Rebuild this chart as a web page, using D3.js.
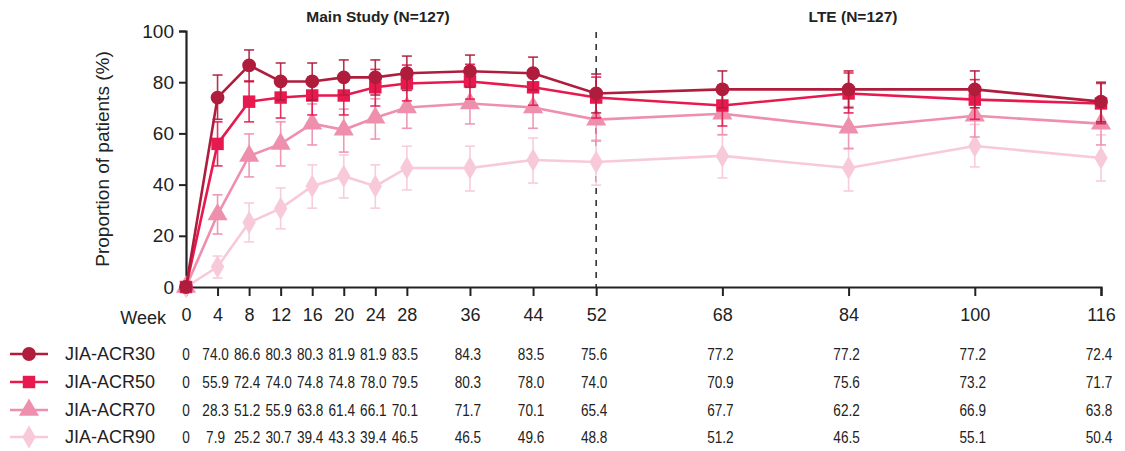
<!DOCTYPE html>
<html>
<head>
<meta charset="utf-8">
<script src="https://cdn.jsdelivr.net/npm/d3@7"></script>
<style>
  html, body { margin: 0; padding: 0; background: #fff; }
  svg { display: block; font-family: "Liberation Sans", Arial, Helvetica, sans-serif; }
</style>
</head>
<body>
<svg id="chart" width="1125" height="451"></svg>
<script>
// Study weeks on the x axis
const weeks = [0, 4, 8, 12, 16, 20, 24, 28, 36, 44, 52, 68, 84, 100, 116];

// Response series (% of patients) with 95% CI bounds
const seriesNames = ["JIA-ACR30", "JIA-ACR50", "JIA-ACR70", "JIA-ACR90"];

const acr30 = [0, 74.0, 86.6, 80.3, 80.3, 81.9, 81.9, 83.5, 84.3, 83.5, 75.6, 77.2, 77.2, 77.2, 72.4];
const acr30Lo = [0, 65.5, 80.2, 73.0, 73.0, 75.0, 75.0, 76.8, 78.0, 77.0, 68.0, 70.0, 70.0, 70.0, 64.5];
const acr30Hi = [0, 82.8, 92.6, 87.5, 87.5, 88.7, 88.7, 90.2, 90.6, 89.8, 83.2, 84.4, 84.4, 84.4, 80.0];

const acr50 = [0, 55.9, 72.4, 74.0, 74.8, 74.8, 78.0, 79.5, 80.3, 78.0, 74.0, 70.9, 75.6, 73.2, 71.7];
const acr50Lo = [0, 47.3, 64.5, 66.0, 67.2, 67.2, 70.7, 72.7, 73.4, 71.0, 66.0, 62.9, 68.0, 65.5, 63.8];
const acr50Hi = [0, 64.5, 80.5, 81.0, 82.0, 82.0, 85.0, 86.7, 87.0, 85.0, 82.0, 79.0, 83.6, 81.0, 79.5];

const acr70 = [0, 28.3, 51.2, 55.9, 63.8, 61.4, 66.1, 70.1, 71.7, 70.1, 65.4, 67.7, 62.2, 66.9, 63.8];
const acr70Lo = [0, 20.7, 43.0, 47.3, 55.5, 52.7, 57.8, 62.0, 63.7, 62.0, 57.0, 59.5, 54.0, 58.6, 55.5];
const acr70Hi = [0, 36.0, 59.8, 64.5, 71.5, 69.5, 73.5, 77.8, 79.0, 77.5, 73.5, 76.0, 70.5, 75.0, 71.5];

const acr90 = [0, 7.9, 25.2, 30.7, 39.4, 43.3, 39.4, 46.5, 46.5, 49.6, 48.8, 51.2, 46.5, 55.1, 50.4];
const acr90Lo = [0, 3.5, 17.6, 22.7, 30.8, 34.8, 30.8, 37.9, 37.5, 40.6, 39.8, 42.6, 37.5, 46.9, 41.4];
const acr90Hi = [0, 12.1, 32.8, 38.7, 47.7, 51.6, 47.7, 55.0, 55.0, 58.2, 57.5, 59.4, 54.3, 63.5, 59.4];

const yTicks = [0, 20, 40, 60, 80, 100];
const phaseTitles = ["Main Study (N=127)", "LTE (N=127)"];
const phaseBoundary = 52;

const colors = ["#b01c3c", "#e8194e", "#ef8fae", "#f8c9d8"];
const symbols = [d3.symbolCircle, d3.symbolSquare, d3.symbolTriangle, d3.symbolDiamond];
const symbolSizes = [150, 155, 175, 155];

const series = [
  { name: seriesNames[0], v: acr30, lo: acr30Lo, hi: acr30Hi },
  { name: seriesNames[1], v: acr50, lo: acr50Lo, hi: acr50Hi },
  { name: seriesNames[2], v: acr70, lo: acr70Lo, hi: acr70Hi },
  { name: seriesNames[3], v: acr90, lo: acr90Lo, hi: acr90Hi }
].map((s, i) => ({ ...s, color: colors[i], symbol: symbols[i], size: symbolSizes[i], idx: i }));

const svg = d3.select("#chart");
const x = d3.scaleLinear().domain([0, 116]).range([186, 1101]);
const y = d3.scaleLinear().domain([0, 100]).range([287, 31]);

// Y axis
const yAxis = svg.append("g")
  .attr("transform", `translate(${x(0)},0)`)
  .call(d3.axisLeft(y).tickValues(yTicks).tickSize(7).tickPadding(5));
yAxis.select(".domain").attr("stroke", "#222").attr("stroke-width", 2.2);
yAxis.selectAll(".tick line").attr("stroke", "#222").attr("stroke-width", 2);
yAxis.selectAll(".tick text").attr("font-size", 19).attr("fill", "#222")
  .attr("font-family", "Liberation Sans, Arial, sans-serif");

svg.append("text")
  .attr("transform", `translate(104,${(y(0) + y(100)) / 2}) rotate(-90)`)
  .attr("text-anchor", "middle")
  .attr("dominant-baseline", "middle")
  .attr("font-size", 19)
  .attr("fill", "#222")
  .text("Proportion of patients (%)");

// X axis
const xAxis = svg.append("g")
  .attr("transform", `translate(0,${y(0)})`)
  .call(d3.axisBottom(x).tickValues(weeks).tickSize(9).tickPadding(12).tickFormat(d3.format("d")));
xAxis.select(".domain").attr("stroke", "#222").attr("stroke-width", 2.2);
xAxis.selectAll(".tick line").attr("stroke", "#222").attr("stroke-width", 2);
xAxis.selectAll(".tick text").attr("font-size", 18).attr("fill", "#222")
  .attr("font-family", "Liberation Sans, Arial, sans-serif");

svg.append("text")
  .attr("x", 166).attr("y", 324)
  .attr("text-anchor", "end")
  .attr("font-size", 18).attr("fill", "#222")
  .text("Week");

// Phase divider and titles
svg.append("line")
  .attr("x1", x(phaseBoundary)).attr("x2", x(phaseBoundary))
  .attr("y1", 32).attr("y2", y(0))
  .attr("stroke", "#333").attr("stroke-width", 1.6)
  .attr("stroke-dasharray", "6,6");

svg.append("text")
  .attr("x", 378).attr("y", 22)
  .attr("text-anchor", "middle")
  .attr("font-size", 15.5).attr("font-weight", "bold").attr("fill", "#222")
  .text(phaseTitles[0]);
svg.append("text")
  .attr("x", 853).attr("y", 22)
  .attr("text-anchor", "middle")
  .attr("font-size", 15.5).attr("font-weight", "bold").attr("fill", "#222")
  .text(phaseTitles[1]);

// Series: lighter ones underneath
const drawOrder = [3, 2, 1, 0];
const line = d3.line().x(d => x(d.w)).y(d => y(d.v));
const plot = svg.append("g");

drawOrder.forEach(i => {
  const s = series[i];
  const pts = weeks.map((w, k) => ({ w, v: s.v[k], lo: s.lo[k], hi: s.hi[k] }));
  const g = plot.append("g");

  // Error bars
  const bars = pts.filter(p => p.w > 0);
  g.selectAll("line.err").data(bars).join("line")
    .attr("x1", d => x(d.w)).attr("x2", d => x(d.w))
    .attr("y1", d => y(d.lo)).attr("y2", d => y(d.hi))
    .attr("stroke", s.color).attr("stroke-width", 1.6).attr("opacity", 0.9);
  ["lo", "hi"].forEach(k => {
    g.selectAll("line.cap" + k).data(bars).join("line")
      .attr("x1", d => x(d.w) - 5).attr("x2", d => x(d.w) + 5)
      .attr("y1", d => y(d[k])).attr("y2", d => y(d[k]))
      .attr("stroke", s.color).attr("stroke-width", 1.6).attr("opacity", 0.9);
  });

  g.append("path").datum(pts)
    .attr("d", line)
    .attr("fill", "none")
    .attr("stroke", s.color)
    .attr("stroke-width", 2.6);

  g.selectAll("path.mk").data(pts).join("path")
    .attr("transform", d => `translate(${x(d.w)},${y(d.v)})`)
    .attr("d", d3.symbol().type(s.symbol).size(s.size))
    .attr("fill", s.color);
});

// Value table with legend keys
const rowY = [354, 382, 410, 437];
const table = svg.append("g");
series.forEach((s, i) => {
  const ry = rowY[i];
  table.append("line")
    .attr("x1", 10).attr("x2", 48).attr("y1", ry).attr("y2", ry)
    .attr("stroke", s.color).attr("stroke-width", 2.6);
  table.append("path")
    .attr("transform", `translate(29,${ry})`)
    .attr("d", d3.symbol().type(s.symbol).size(s.size))
    .attr("fill", s.color);
  table.append("text")
    .attr("x", 65).attr("y", ry)
    .attr("dominant-baseline", "central")
    .attr("font-size", 18).attr("fill", "#222")
    .text(s.name);
  // condensed numerals: horizontally squeezed text
  table.selectAll(null).data(weeks.map((w, k) => ({ w, v: s.v[k] }))).join("text")
    .attr("transform", d => `translate(${x(d.w) - (d.w === 0 ? 0 : 2)},${ry}) scale(0.8,1)`)
    .attr("dominant-baseline", "central")
    .attr("text-anchor", "middle")
    .attr("font-size", 17).attr("fill", "#222")
    .text(d => d.v === 0 ? "0" : d.v.toFixed(1));
});
</script>
</body>
</html>
